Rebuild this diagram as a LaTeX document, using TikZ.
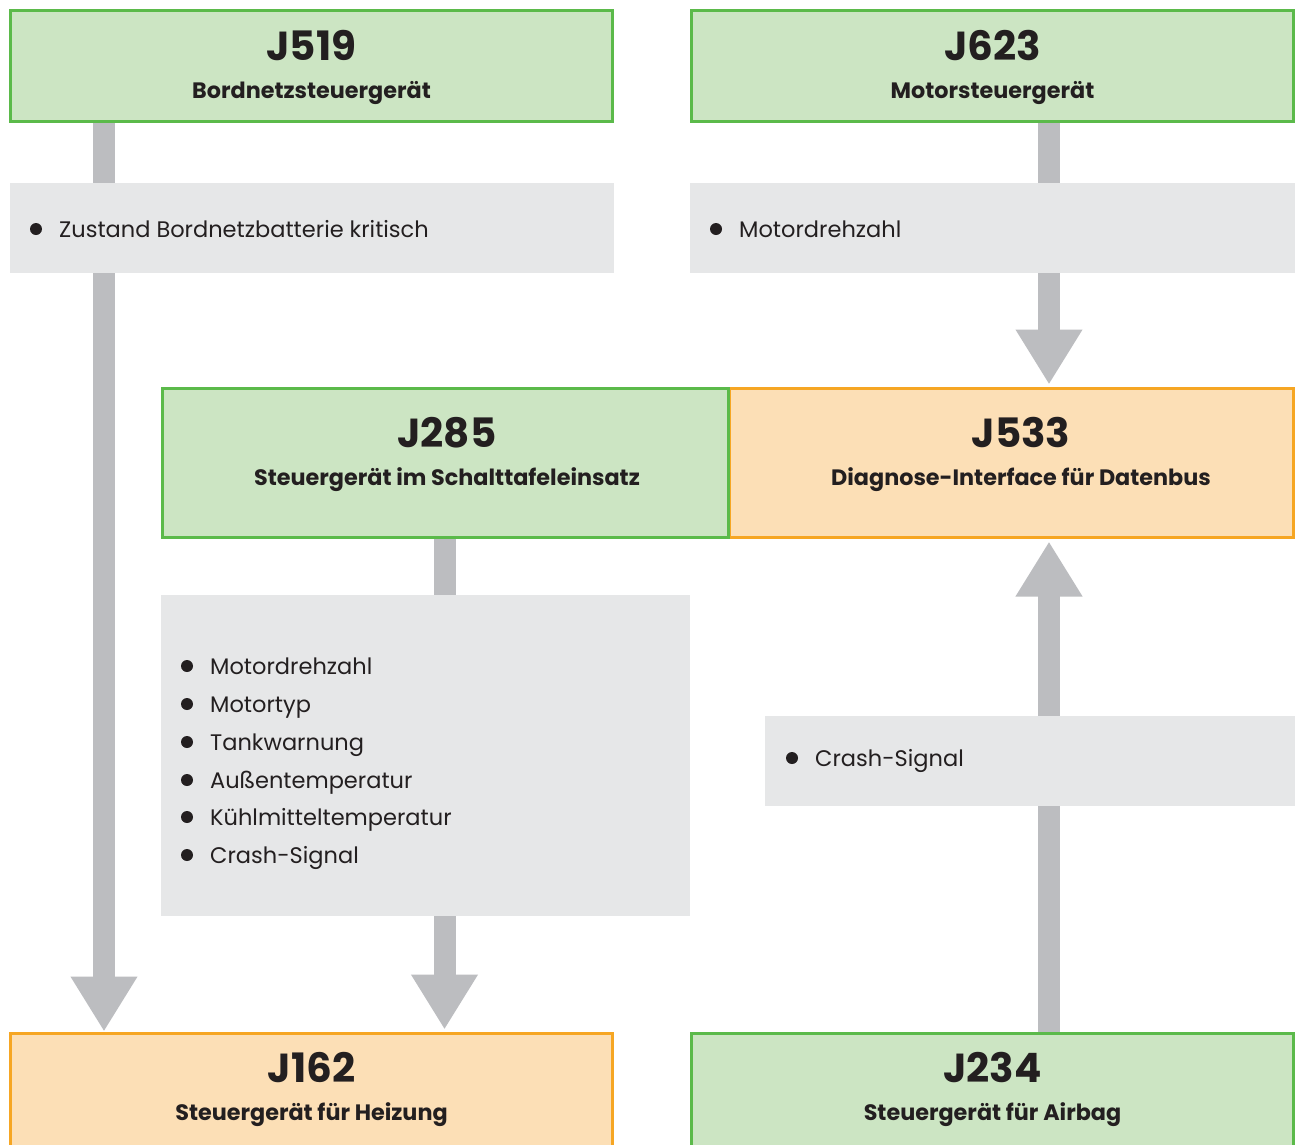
\documentclass[tikz,border=0pt]{standalone}
\usepackage{fontspec}
\setmainfont{Poppins}
\usetikzlibrary{arrows.meta}
\definecolor{gfill}{HTML}{CCE5C3}
\definecolor{gline}{HTML}{5BBA4A}
\definecolor{ofill}{HTML}{FCDFB6}
\definecolor{oline}{HTML}{F6A623}
\definecolor{infobg}{HTML}{E6E7E8}
\definecolor{arrowc}{HTML}{BCBDC0}
\definecolor{txt}{HTML}{231F20}
\pgfdeclarelayer{back}
\pgfdeclarelayer{bg}
\pgfsetlayers{back,bg,main}
\tikzset{
  ecu/.style={line width=3pt, inner sep=0pt, outer sep=0pt, anchor=north west},
  greenbox/.style={ecu, draw=gline, fill=gfill},
  orangebox/.style={ecu, draw=oline, fill=ofill},
  infobox/.style={fill=infobg, inner sep=0pt, outer sep=0pt, anchor=north west},
  title/.style={font=\fontsize{40.5}{46}\selectfont\bfseries, text=txt, anchor=base, inner sep=0pt},
  subtitle/.style={font=\fontsize{22.3}{26}\selectfont\bfseries, text=txt, anchor=base, inner sep=0pt},
  item/.style={font=\fontsize{22.5}{27}\selectfont, text=txt, anchor=base west, inner sep=0pt},
  dot/.style={circle, fill=txt, minimum size=12pt, inner sep=0pt},
  flow/.style={draw=arrowc, line width=22pt, -{Triangle[length=55pt, width=63pt]}}
}
\begin{document}
\begin{tikzpicture}[x=1pt, y=-1pt]
\useasboundingbox (0,0) rectangle (1295,1144);
\clip (0,0) rectangle (1295,1144);
\begin{pgfonlayer}{back}
\fill[white] (0,0) rectangle (1295,1144);
\end{pgfonlayer}

% ECU boxes
\node[greenbox, minimum width=602pt, minimum height=111pt] (J519) at (10.5,10.5) {};
\node[greenbox, minimum width=602pt, minimum height=111pt] (J623) at (691.5,10.5) {};
\node[orangebox, minimum width=564pt, minimum height=149pt] (J533) at (729.5,388.5) {};
\node[greenbox, minimum width=566pt, minimum height=149pt] (J285) at (162.5,388.5) {};
\node[orangebox, minimum width=602pt, minimum height=150pt] (J162) at (10.5,1033.5) {};
\node[greenbox, minimum width=602pt, minimum height=150pt] (J234) at (691.5,1033.5) {};

% titles
\node[title] (t519) at (311.5,60) {J519};
\node[subtitle] (s519) at (311.5,98) {Bordnetzsteuergerät};
\node[title] (t623) at (992.5,60) {J623};
\node[subtitle] (s623) at (992.5,98) {Motorsteuergerät};
\node[title] (t285) at (447,447) {J285};
\node[subtitle] (s285) at (447,485) {Steuergerät im Schalttafeleinsatz};
\node[title] (t533) at (1021,447) {J533};
\node[subtitle] (s533) at (1021,485) {Diagnose-Interface für Datenbus};
\node[title] (t162) at (311.5,1082) {J162};
\node[subtitle] (s162) at (311.5,1120) {Steuergerät für Heizung};
\node[title] (t234) at (992.5,1082) {J234};
\node[subtitle] (s234) at (992.5,1120) {Steuergerät für Airbag};

% info boxes
\node[infobox, minimum width=604pt, minimum height=90pt] (i1) at (10,183) {};
\node[infobox, minimum width=605pt, minimum height=90pt] (i2) at (690,183) {};
\node[infobox, minimum width=529pt, minimum height=321pt] (i3) at (161,595) {};
\node[infobox, minimum width=530pt, minimum height=90pt] (i4) at (765,716) {};

% items
\node[dot] (d1) at (36,229) {};
\node[item] (l1) at (59,237) {Zustand Bordnetzbatterie kritisch};
\node[dot] (d2) at (716,229) {};
\node[item] (l2) at (739,237) {Motordrehzahl};
\node[dot] (d31) at (187,666) {};
\node[item] (l31) at (210,674) {Motordrehzahl};
\node[dot] (d32) at (187,704) {};
\node[item] (l32) at (210,712) {Motortyp};
\node[dot] (d33) at (187,742) {};
\node[item] (l33) at (210,750) {Tankwarnung};
\node[dot] (d34) at (187,780) {};
\node[item] (l34) at (210,788) {Außentemperatur};
\node[dot] (d35) at (187,817) {};
\node[item] (l35) at (210,825) {Kühlmitteltemperatur};
\node[dot] (d36) at (187,855) {};
\node[item] (l36) at (210,863) {Crash-Signal};
\node[dot] (d4) at (792,758) {};
\node[item] (l4) at (815,766) {Crash-Signal};

% connectors
\coordinate (xa) at (104,0);
\coordinate (xb) at (444.5,0);
\coordinate (xc) at (1049,0);
\begin{pgfonlayer}{bg}
\draw[flow, shorten >=2pt] (J519.south -| xa) -- (J162.north -| xa);
\draw[flow, shorten >=4pt] (J285.south -| xb) -- (J162.north -| xb);
\draw[flow, shorten >=4pt] (J623.south -| xc) -- (J533.north -| xc);
\draw[flow, shorten >=4pt] (J234.north -| xc) -- (J533.south -| xc);
\end{pgfonlayer}
\end{tikzpicture}
\end{document}
